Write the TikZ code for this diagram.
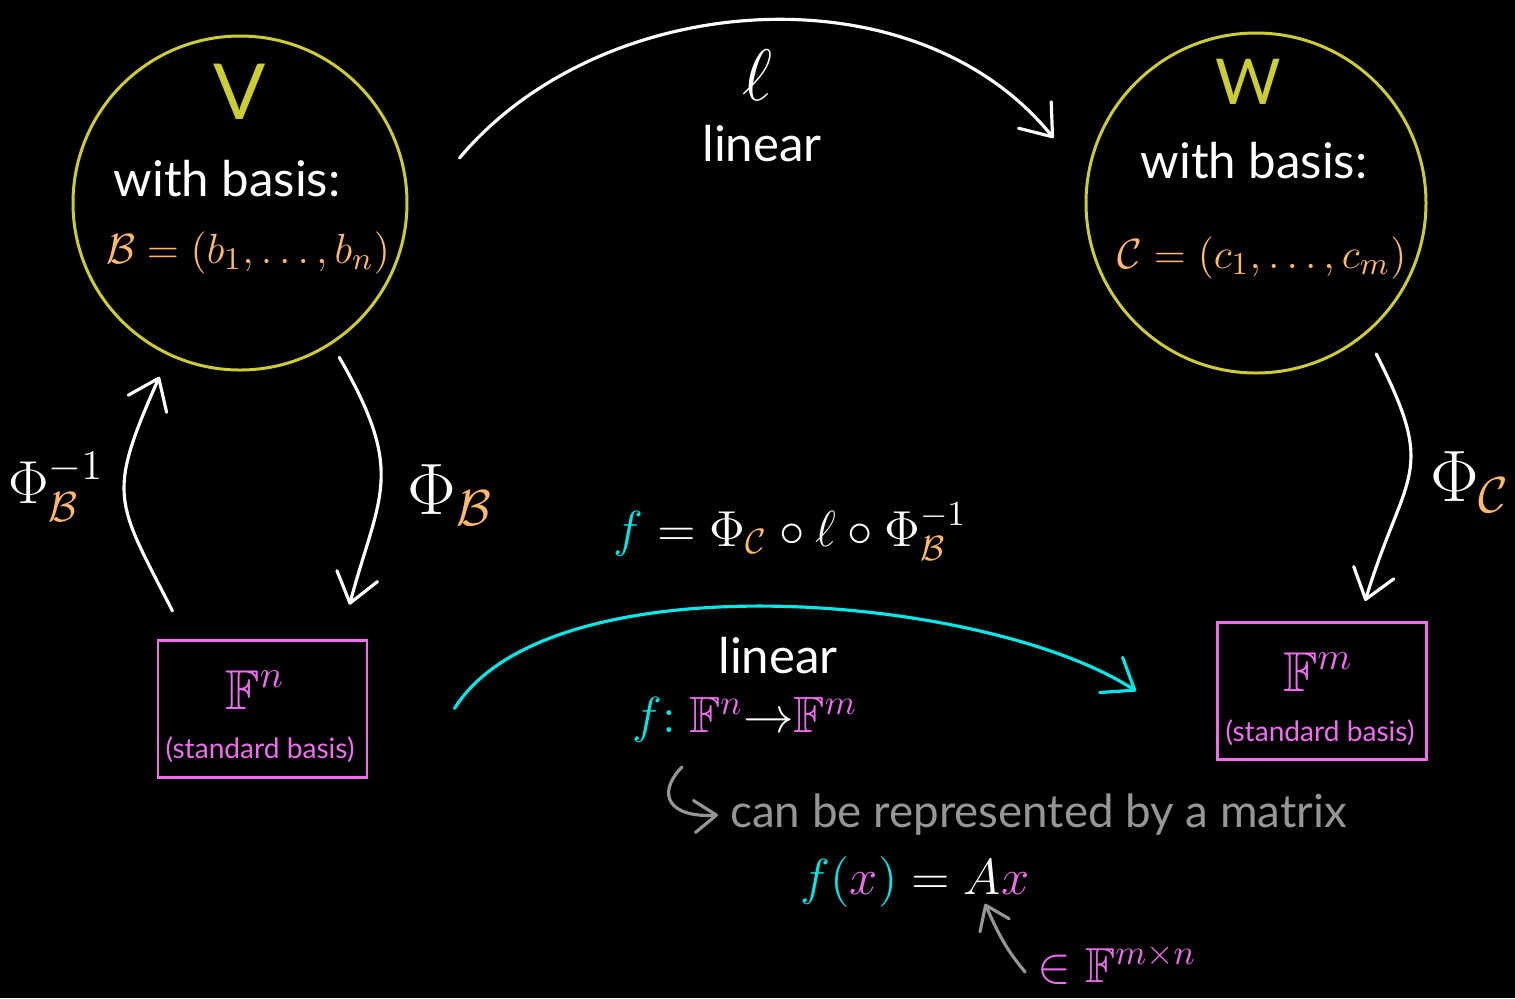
\documentclass[tikz,border=0pt]{standalone}
\usepackage{amsmath,amssymb}
\usepackage{fontspec}
\setmainfont{Lato}
\usetikzlibrary{arrows.meta,positioning,calc}
\definecolor{spyellow}{RGB}{204,204,51}
\definecolor{basorange}{RGB}{255,185,110}
\definecolor{spmag}{RGB}{238,110,238}
\definecolor{fcyan}{RGB}{0,232,232}
\definecolor{notegray}{RGB}{150,150,150}
\newcommand{\Bas}{\textcolor{basorange}{\mathcal{B}}}
\newcommand{\Cas}{\textcolor{basorange}{\mathcal{C}}}

\begin{document}
\begin{tikzpicture}[spacecirc/.style={circle,draw=spyellow,line width=0.85pt,minimum size=#1,inner sep=0pt},
  stdbox/.style={rectangle,draw=spmag,line width=0.85pt,minimum width=2.09cm,minimum height=1.37cm,inner sep=0pt},
  basistext/.style={text=white,font=\fontsize{14}{16}\selectfont},
  baseq/.style={text=basorange,font=\fontsize{12.5}{15}\selectfont},
  lintext/.style={text=white,font=\fontsize{14}{16}\selectfont},
  fspace/.style={text=spmag,font=\fontsize{16}{18}\selectfont},
  stdnote/.style={text=spmag,font=\fontsize{8}{10}\selectfont},
  philab/.style={text=white,font=\fontsize{20}{22}\selectfont},
  notetext/.style={text=notegray,font=\fontsize{13}{15}\selectfont},
  mapto/.style={-{Straight Barb[length=2.8mm,width=4.2mm,round]},white,line width=0.9pt,line cap=round},
  notearrow/.style={-{Straight Barb[length=2.2mm,width=3.2mm,round]},notegray,line width=0.9pt,line cap=round}]
\fill[black] (0,0) rectangle (15.15,-9.98);
\useasboundingbox (0,0) rectangle (15.15,-9.98);
% vector spaces
\node[spacecirc=3.34cm] (Vsp) at (2.40,-2.03) {};
\node[spacecirc=3.40cm] (Wsp) at (12.56,-2.03) {};
\node[text=spyellow,font=\fontsize{22}{24}\selectfont] (Vname) at (2.40,-0.92) {V};
\node[basistext] (Vwith) at (2.27,-1.79) {with basis:};
\node[baseq] (Vbas) at (2.48,-2.53) {$\Bas = (b_1,\ldots,b_n)$};
\node[text=spyellow,font=\fontsize{18}{20}\selectfont] (Wname) at (12.48,-0.82) {W};
\node[basistext] (Wwith) at (12.54,-1.61) {with basis:};
\node[baseq] (Wbas) at (12.62,-2.58) {$\Cas =(c_1,\ldots,c_m)$};
% coordinate spaces
\node[stdbox] (Fn) at (2.625,-7.085) {};
\node[fspace] (Fnlab) at (2.55,-6.90) {$\mathbb{F}^n$};
\node[stdnote] (Fnstd) at (2.60,-7.50) {(standard basis)};
\node[stdbox] (Fm) at (13.22,-6.91) {};
\node[fspace] (Fmlab) at (13.18,-6.72) {$\mathbb{F}^m$};
\node[stdnote] (Fmstd) at (13.20,-7.33) {(standard basis)};
% labels
\node[text=white,font=\fontsize{20}{22}\selectfont] (ell) at (7.57,-0.75) {$\ell$};
\node[lintext] (lintop) at (7.62,-1.44) {linear};
\node[philab,font=\fontsize{18}{20}\selectfont] (phiBinv) at (0.56,-4.87) {$\Phi_{\Bas}^{-1}$};
\node[philab] (phiB) at (4.50,-4.95) {$\Phi_{\Bas}$};
\node[philab] (phiC) at (14.70,-4.82) {$\Phi_{\Cas}$};
\node[text=white,font=\fontsize{14.5}{16}\selectfont] (comp) at (7.90,-5.32) {$\textcolor{fcyan}{f} = \Phi_{\Cas}\circ\ell\circ\Phi_{\Bas}^{-1}$};
\node[lintext] (linmid) at (7.78,-6.56) {linear};
\node[text=spmag,font=\fontsize{14.5}{16}\selectfont] (fmap) at (7.45,-7.20) {$\textcolor{fcyan}{f{:}}\ \mathbb{F}^n \textcolor{white}{\to} \mathbb{F}^m$};
% matrix
\coordinate (hookstart) at (6.82,-7.67);
\node[notetext,anchor=west] (repr) at (7.18,-8.15) {can be represented by a matrix};
\node[text=white,font=\fontsize{15}{17}\selectfont] (feq) at (9.15,-8.82) {$\textcolor{fcyan}{f(}\textcolor{spmag}{x}\textcolor{fcyan}{)} = A\textcolor{spmag}{x}$};
\node[text=spmag,font=\fontsize{14}{16}\selectfont] (inF) at (11.17,-9.64) {$\in\mathbb{F}^{m\times n}$};
% maps
\draw[mapto] ([shift={(0.51,0.45)}]Vsp.east) to[out=50,in=129,looseness=0.95] ([shift={(-0.31,0.65)}]Wsp.west);
\draw[mapto,shorten <=0.15cm,shorten >=0.35cm] (Vsp.-57) to[out=-60,in=75,looseness=1.3] ([xshift=-0.28cm]Fn.north east);
\draw[mapto,shorten <=0.31cm,shorten >=0.23cm] ([xshift=0.30cm]Fn.north west) to[out=117,in=-114,looseness=1.4] (Vsp.-115);
\draw[mapto,shorten <=0.22cm,shorten >=0.21cm] (Wsp.-50) to[out=-63,in=73,looseness=1.42] ([xshift=0.37cm]Fm.north);
\draw[mapto,fcyan] ([xshift=0.86cm]Fn.east) to[out=58,in=147,looseness=0.67] ([xshift=-0.80cm]Fm.west);
\draw[notearrow] (hookstart) .. controls +(-0.27,-0.28) and +(-0.48,-0.03) .. (repr.west);
\draw[notearrow] ([yshift=-0.08cm]inF.west) to[out=130,in=-66] ([shift={(0.70,0.16)}]feq.south);
\end{tikzpicture}
\end{document}
